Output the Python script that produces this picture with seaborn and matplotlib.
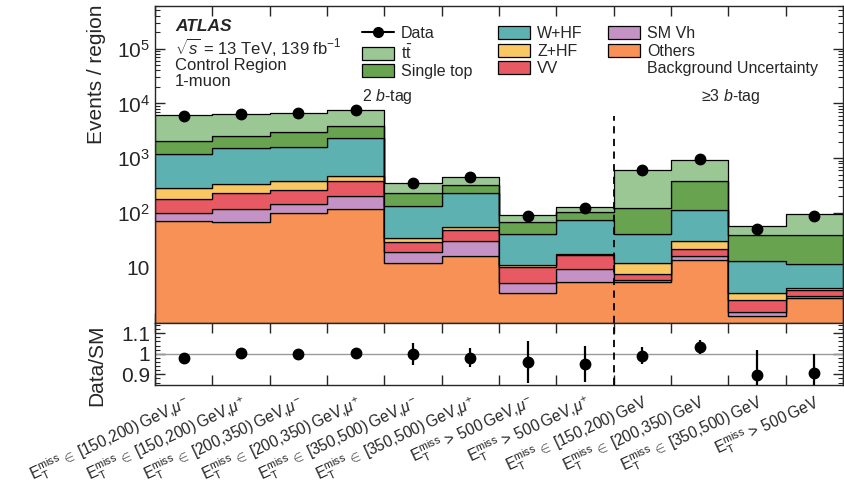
import numpy as np
import pandas as pd
import matplotlib
matplotlib.use("Agg")
import matplotlib.pyplot as plt
import seaborn as sns
from matplotlib.patches import Patch
from matplotlib.lines import Line2D
from matplotlib.ticker import FixedLocator, LogLocator, NullFormatter, MultipleLocator, FixedFormatter

# ---- region labels -------------------------------------------------------
MET_IN = r"$\mathrm{E}_{\mathrm{T}}^{\mathrm{miss}}\,\in\,$"
MET_GT = r"$\mathrm{E}_{\mathrm{T}}^{\mathrm{miss}}\,>\,$"
region_labels = [
    MET_IN + "[150,200)\u2009GeV," + r"$\mu^{-}$",
    MET_IN + "[150,200)\u2009GeV," + r"$\mu^{+}$",
    MET_IN + "[200,350)\u2009GeV," + r"$\mu^{-}$",
    MET_IN + "[200,350)\u2009GeV," + r"$\mu^{+}$",
    MET_IN + "[350,500)\u2009GeV," + r"$\mu^{-}$",
    MET_IN + "[350,500)\u2009GeV," + r"$\mu^{+}$",
    MET_GT + "500\u2009GeV," + r"$\mu^{-}$",
    MET_GT + "500\u2009GeV," + r"$\mu^{+}$",
    MET_IN + "[150,200)\u2009GeV",
    MET_IN + "[200,350)\u2009GeV",
    MET_IN + "[350,500)\u2009GeV",
    MET_GT + "500\u2009GeV",
]

# ---- background yields per region ---------------------------------------
ttbar     = [3980, 3850, 3720, 3750, 127, 125, 22.1, 22.5, 480, 561, 18.0, 58.3]
singletop = [880, 985, 1440, 1510, 96, 98, 28.3, 30.5, 81.1, 270, 25.8, 27.5]
w_hf      = [879, 1201, 1210, 1808, 100.6, 177.4, 30.2, 57.8, 29.8, 84.3, 9.77, 7.26]
z_hf      = [111, 112, 113, 97, 5.5, 5.1, 0.7, 0.7, 4.3, 8.8, 0.8, 0.29]
diboson   = [80.3, 115, 119, 181, 10.6, 18.3, 5.1, 7.6, 1.8, 5.8, 1.05, 0.96]
sm_vh     = [29.4, 49.5, 48, 84, 7.2, 14.6, 1.7, 3.9, 0.5, 2.1, 0.29, 0.21]
others    = [70.3, 67.5, 100, 120, 12.1, 16.6, 3.5, 5.5, 5.5, 14.0, 1.29, 2.78]

# ---- observed events -----------------------------------------------------
data = [5920, 6400, 6750, 7570, 358, 446, 88, 122, 597, 976, 51, 88]

process_names = [r"t$\bar{\mathrm{t}}$", "Single top", "W+HF", "Z+HF", "VV", "SM Vh", "Others"]
process_yields = [ttbar, singletop, w_hf, z_hf, diboson, sm_vh, others]
process_colors = ["#9ac794", "#68a450", "#5db2b1", "#f9c862", "#e85a63", "#c592c6", "#f79155"]

# ---- style ---------------------------------------------------------------
sns.set_style("ticks")
plt.rcParams["font.family"] = ["Liberation Sans", "DejaVu Sans"]
plt.rcParams["mathtext.fontset"] = "custom"
plt.rcParams["mathtext.rm"] = "Liberation Sans"
plt.rcParams["mathtext.it"] = "Liberation Sans:italic"
plt.rcParams["mathtext.bf"] = "Liberation Sans:bold"
plt.rcParams["axes.linewidth"] = 1.0

n_bins = len(data)
edges = np.arange(n_bins + 1)
centers = edges[:-1] + 0.5

rows = []
for name, ys in zip(process_names, process_yields):
    for c, y in zip(centers, ys):
        rows.append({"region": c, "process": name, "events": y})
df = pd.DataFrame(rows)

total = np.sum(np.array(process_yields, dtype=float), axis=0)
data_arr = np.array(data, dtype=float)
ratio = data_arr / total
ratio_err = np.sqrt(data_arr) / total

fig = plt.figure(figsize=(8.44, 4.82), dpi=100)
ax = fig.add_axes([0.1836, 0.3309, 0.8152, 0.6566])
rax = fig.add_axes([0.1836, 0.2012, 0.8152, 0.1297], sharex=ax)

# stacked backgrounds
sns.histplot(
    data=df, x="region", weights="events", hue="process",
    hue_order=process_names, palette=dict(zip(process_names, process_colors)),
    multiple="stack", element="step", binwidth=1, binrange=(0, n_bins), alpha=1,
    edgecolor="black", linewidth=0.9, legend=False, ax=ax,
)
ax.set_yscale("log")
ax.set_ylim(1, 6e5)
ax.set_xlim(0, n_bins)

# data points
ax.errorbar(centers, data_arr, yerr=np.sqrt(data_arr), fmt="o", color="black",
            ms=7.5, elinewidth=1.3, capsize=0, zorder=10)

# separator between b-tag categories
ax.vlines(8, 1, 6.0e3, colors="black", linestyles=(0, (4, 3)), lw=1.3, zorder=11)
rax.axvline(8, color="black", ls=(0, (4, 3)), lw=1.3, zorder=11)

# ratio panel
rax.axhline(1, color="#9a9a9a", lw=1.0, zorder=1)
rax.errorbar(centers, ratio, yerr=ratio_err, fmt="o", color="black",
             ms=7.5, elinewidth=1.6, capsize=0, zorder=10)
rax.set_ylim(0.848, 1.152)

# axis ticks
for a in (ax, rax):
    a.tick_params(axis="both", which="both", direction="in", top=True, right=True)
    a.tick_params(axis="both", which="major", length=7, width=1.0)
    a.tick_params(axis="y", which="minor", length=3.5, width=0.8)
    a.xaxis.set_major_locator(FixedLocator(edges))
    a.xaxis.set_minor_locator(FixedLocator(centers))
    a.tick_params(axis="x", which="minor", length=0)
    a.set_xlabel("")
    a.set_ylabel("")

ax.tick_params(axis="x", which="both", labelbottom=False)
ax.yaxis.set_major_locator(FixedLocator([10, 1e2, 1e3, 1e4, 1e5]))
ax.set_yticklabels(["10", r"$10^{2}$", r"$10^{3}$", r"$10^{4}$", r"$10^{5}$"], fontsize=15)
ax.yaxis.set_minor_locator(LogLocator(base=10, subs=np.arange(2, 10), numticks=20))
ax.yaxis.set_minor_formatter(NullFormatter())

rax.yaxis.set_major_locator(FixedLocator([0.9, 1.0, 1.1]))
rax.set_yticklabels(["0.9", "1", "1.1"], fontsize=15)
rax.yaxis.set_minor_locator(MultipleLocator(0.02))
rax.xaxis.set_major_formatter(NullFormatter())
rax.xaxis.set_minor_formatter(FixedFormatter(region_labels))
for lab in rax.get_xticklabels(minor=True):
    lab.set_rotation(25)
    lab.set_ha("right")
    lab.set_va("top")
    lab.set_rotation_mode("anchor")
    lab.set_fontsize(11.2)
rax.tick_params(axis="x", which="minor", pad=5)

fig.text(97 / 844, 1 - 5 / 482, "Events / region", rotation=90, ha="center", va="top", fontsize=15)
fig.text(97 / 844, 1 - 324 / 482, "Data/SM", rotation=90, ha="center", va="top", fontsize=15)

# annotation block
ax.text(0.029, 0.935, "ATLAS", transform=ax.transAxes, fontsize=12.5,
        fontweight="bold", fontstyle="italic", va="center")
ax.text(0.029, 0.87, r"$\sqrt{s}$ = 13 TeV, 139 fb$^{-1}$", transform=ax.transAxes,
        fontsize=12, va="center")
ax.text(0.029, 0.812, "Control Region", transform=ax.transAxes, fontsize=12, va="center")
ax.text(0.029, 0.762, "1-muon", transform=ax.transAxes, fontsize=12, va="center")

ax.text(4.05, 0.715, r"2 $b$-tag", transform=ax.get_xaxis_transform(), fontsize=11.5,
        ha="center", va="center")
ax.text(10.05, 0.715, "\u22653 $b$-tag", transform=ax.get_xaxis_transform(), fontsize=11.5,
        ha="center", va="center")

# legend
handles = [Line2D([0], [0], color="black", marker="o", ms=7, lw=1.5)]
labels = ["Data"]
for name, col in zip(process_names, process_colors):
    handles.append(Patch(facecolor=col, edgecolor="black", linewidth=0.9))
    labels.append(name)
handles.append(Patch(facecolor="none", edgecolor="none"))
labels.append("Background Uncertainty")
leg = ax.legend(handles, labels, ncol=3, loc="upper left",
                bbox_to_anchor=((362 - 155) / 688, 1 - 20 / 316.5), frameon=False,
                fontsize=11.5, handlelength=2.0, handleheight=0.9, handletextpad=0.45,
                columnspacing=1.6, labelspacing=0.15, borderpad=0, borderaxespad=0)

fig.savefig("out.png", dpi=100)
